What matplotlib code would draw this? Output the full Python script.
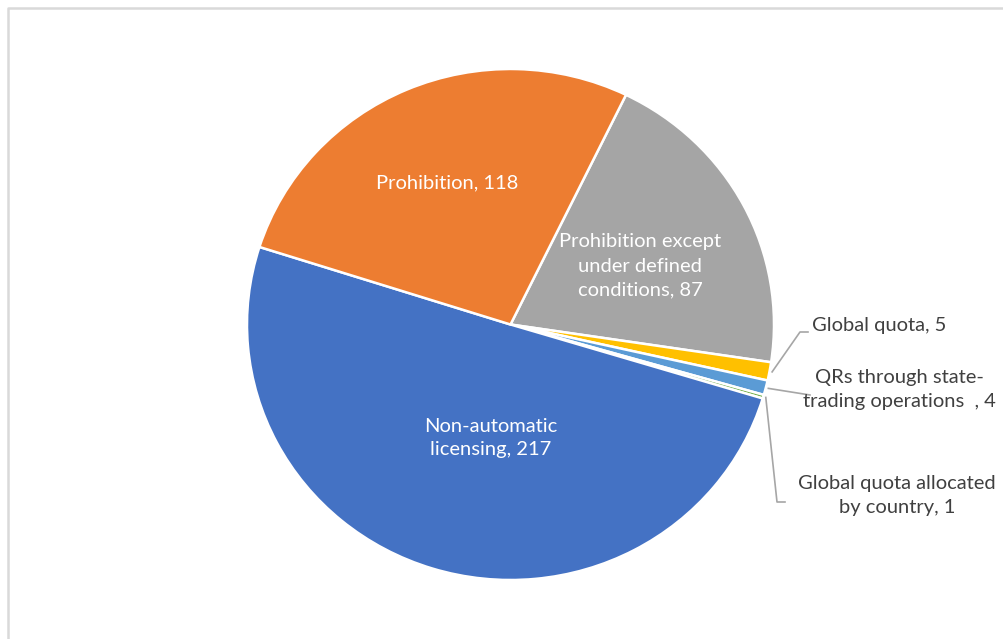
import numpy as np
import matplotlib
matplotlib.use('Agg')
import matplotlib.pyplot as plt
from matplotlib.lines import Line2D

# Datos (sentido horario desde el corte naranja/gris)
labels = ["Prohibition except\nunder defined\nconditions", "Global quota",
          "QRs through state-\ntrading operations  ", "Global quota allocated\nby country",
          "Non-automatic\nlicensing", "Prohibition"]
values = [87, 5, 4, 1, 217, 118]
colors = ["#A5A5A5", "#FFC000", "#5B9BD5", "#70AD47", "#4472C4", "#ED7D31"]

W, H = 1004, 639
CX, CY, RX, RY = 510.5, 324.5, 263.5, 255.5

plt.rcParams['font.family'] = ['Lato', 'DejaVu Sans']
fig = plt.figure(figsize=(W / 100, H / 100), dpi=100)
ax = fig.add_axes([(CX - RX) / W, (H - CY - RY) / H, 2 * RX / W, 2 * RY / H])

wedges, _ = ax.pie(values, colors=colors, startangle=64, counterclock=False,
                   wedgeprops=dict(edgecolor="white", linewidth=1.8))
ax.set_aspect('auto')
ax.set_xlim(-1, 1)
ax.set_ylim(-1, 1)
ax.axis('off')


def px(x, y):
    # pixel de la imagen -> coordenadas del eje
    return (x - CX) / RX, (CY - y) / RY


def edge_point(w, r=1.0):
    ang = np.deg2rad((w.theta1 + w.theta2) / 2)
    return r * np.cos(ang), r * np.sin(ang)


FS = 14.5
txt_in = dict(color="white", fontsize=FS, ha="center", va="center", linespacing=1.5)
txt_out = dict(color="#404040", fontsize=FS, ha="center", va="center", linespacing=1.5)

# etiquetas internas
ax.text(*px(447, 183), f"{labels[5]}, {values[5]}", **txt_in)
ax.text(*px(640, 266), f"{labels[0]}, {values[0]}", **txt_in)
ax.text(*px(491, 438), f"{labels[4]}, {values[4]}", **txt_in)

# etiquetas externas con líneas guía
ax.text(*px(812, 325), f"{labels[1]}, {values[1]}", **dict(txt_out, ha="left"))
ax.text(*px(899, 390), f"{labels[2]}, {values[2]}", **txt_out)
ax.text(*px(897, 496), f"{labels[3]}, {values[3]}", **txt_out)

lc = "#A6A6A6"
x0, y0 = edge_point(wedges[1], 1.01)
pts = [(x0, y0), px(800, 332), px(808, 332)]
ax.add_line(Line2D(*zip(*pts), color=lc, lw=1.2, clip_on=False))
x0, y0 = edge_point(wedges[2], 1.01)
pts = [(x0, y0), px(810, 395)]
ax.add_line(Line2D(*zip(*pts), color=lc, lw=1.2, clip_on=False))
x0, y0 = edge_point(wedges[3], 1.01)
pts = [(x0, y0), px(777, 502), px(785, 502)]
ax.add_line(Line2D(*zip(*pts), color=lc, lw=1.2, clip_on=False))

# marco del gráfico (solo izquierda y arriba visibles)
fig.add_artist(Line2D([8.5 / W, 8.5 / W, 1.0], [0.0, 1 - 7.5 / H, 1 - 7.5 / H],
                      color="#D9D9D9", lw=1.8, transform=fig.transFigure))

plt.savefig("out.png", dpi=100, facecolor="white")
plt.close()
